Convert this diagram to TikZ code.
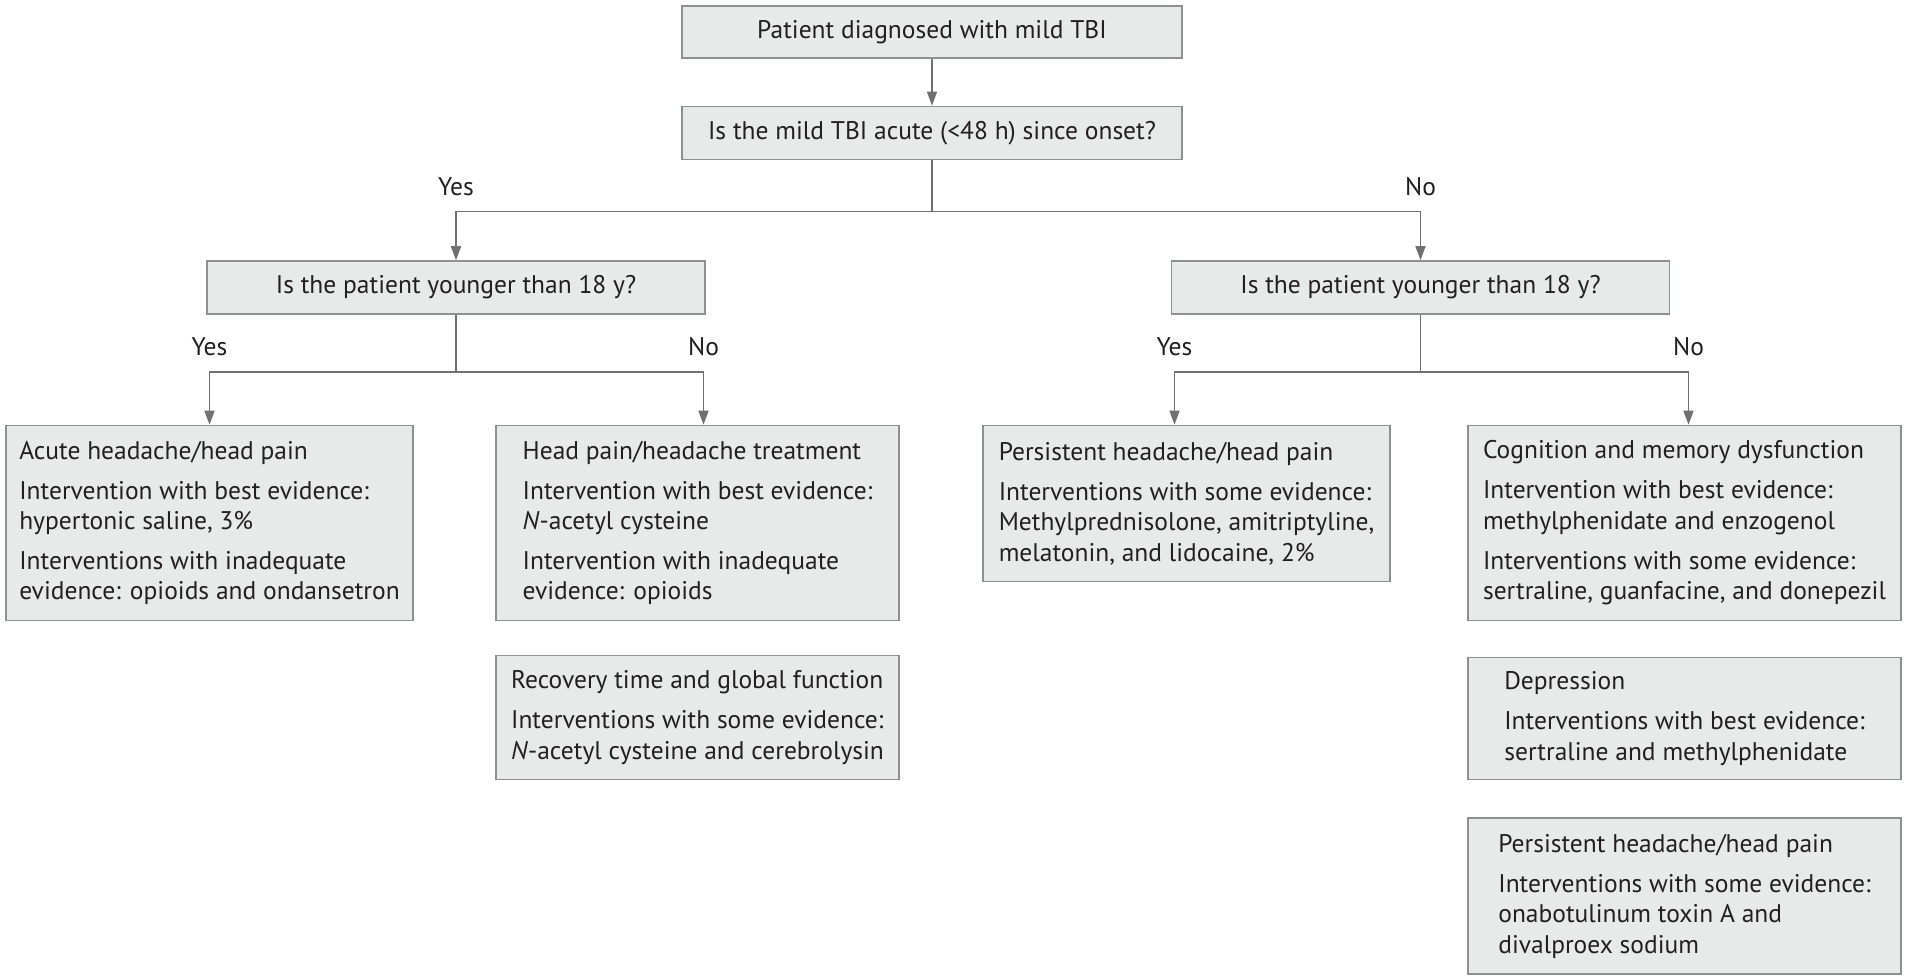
\documentclass[tikz,border=0pt]{standalone}
\usepackage{fontspec}
\setmainfont{PT Sans}
\usetikzlibrary{
  arrows.meta,
  positioning
}
\definecolor{colBox}   {HTML}{E7EAE9}
\definecolor{colBorder}{HTML}{8E908F}
\definecolor{colLine}  {HTML}{707070}
\definecolor{colText}  {HTML}{231F20}
\tikzset{
  %% generic box
  box/.style={
    draw=colBorder, line width=0.8pt,
    fill=colBox,
    align=left,
    inner sep=0pt,
    text=colText,
    font=\fontsize{12.75}{15.2}\selectfont
  },
  %% question box
  qbox/.style={box, minimum width=#1, minimum height=26.5pt},
  qbox/.default=250pt,
  %% yes / no label
  lbl/.style={above=7.5pt, inner sep=0pt, text=colText,
              font=\fontsize{12.75}{15.2}\selectfont},
  %% arrows
  arr/.style={-{Triangle[length=7pt,width=5pt]}, line width=0.75pt,
              color=colLine}
}

\begin{document}
\begin{tikzpicture}[x=0.5pt, y=-0.5pt]
\useasboundingbox (0,0) rectangle (1907,978);

% ==========================================================
% TOP – DIAGNOSIS AND FIRST QUESTION
% ==========================================================
\node[qbox, minimum height=26pt] (ptDiag) at (932,32)
     {Patient diagnosed with mild TBI};

\node[qbox] (acuteQ) at (932,133)
     {Is the mild TBI acute (<48 h) since onset?};

% ==========================================================
% SECOND LEVEL – AGE QUESTIONS
% ==========================================================
\node[qbox, minimum width=249pt] (ageAcute) at (456,287.5)
     {Is the patient younger than 18 y?};

\node[qbox, minimum width=249pt] (ageLate) at (1420.5,287.5)
     {Is the patient younger than 18 y?};

% ==========================================================
% LEAVES – ACUTE
% ==========================================================
\node[box, minimum width=203.5pt, minimum height=97.5pt]
     (acuteHead) at (209.5,523) {%
  Acute headache/head pain\\[4.8pt]
  Intervention with best evidence:\\
  hypertonic saline, 3\%\\[4.8pt]
  Interventions with inadequate\\
  evidence: opioids and ondansetron};

\node[box, minimum width=201.5pt, minimum height=97.5pt]
     (hpTreat) at (697.5,523) {%
  Head pain/headache treatment\\[4.8pt]
  Intervention with best evidence:\\
  \textit{N}-acetyl cysteine\\[4.8pt]
  Intervention with inadequate\\
  evidence: opioids};

\node[box, minimum width=201.5pt, minimum height=62pt,
      below=16.75pt of hpTreat] (recovery) {%
  Recovery time and global function\\[4.8pt]
  Interventions with some evidence:\\
  \textit{N}-acetyl cysteine and cerebrolysin};

% ==========================================================
% LEAVES – NOT ACUTE
% ==========================================================
\node[box, minimum width=203.5pt, minimum height=78pt]
     (persHead) at (1186.5,503.5) {%
  Persistent headache/head pain\\[4.8pt]
  Interventions with some evidence:\\
  Methylprednisolone, amitriptyline,\\
  melatonin, and lidocaine, 2\%};

\node[box, minimum width=216.5pt, minimum height=97.5pt]
     (cognition) at (1684.5,523) {%
  Cognition and memory dysfunction\\[4.8pt]
  Intervention with best evidence:\\
  methylphenidate and enzogenol\\[4.8pt]
  Interventions with some evidence:\\
  sertraline, guanfacine, and donepezil};

\node[box, minimum width=216.5pt, minimum height=61pt,
      below=17.75pt of cognition] (depression) {%
  Depression\\[4.8pt]
  Interventions with best evidence:\\
  sertraline and methylphenidate};

\node[box, minimum width=216.5pt, minimum height=78pt,
      below=18.5pt of depression] (persHead2) {%
  Persistent headache/head pain\\[4.8pt]
  Interventions with some evidence:\\
  onabotulinum toxin A and\\
  divalproex sodium};

% ==========================================================
% ARROWS
% ==========================================================
\draw[arr] (ptDiag) -- (acuteQ);

\draw[arr] (acuteQ.south) -- ++(0,51)
           -| node[lbl, pos=0.5]{Yes} (ageAcute.north);
\draw[arr] (acuteQ.south) -- ++(0,51)
           -| node[lbl, pos=0.5]{No} (ageLate.north);

\draw[arr] (ageAcute.south) -- ++(0,57)
           -| node[lbl, pos=0.5]{Yes} (acuteHead.north);
\draw[arr] (ageAcute.south) -- ++(0,57)
           -| node[lbl, pos=0.5]{No} ([xshift=3pt]hpTreat.north);

\draw[arr] (ageLate.south) -- ++(0,57)
           -| node[lbl, pos=0.5]{Yes} ([xshift=-6pt]persHead.north);
\draw[arr] (ageLate.south) -- ++(0,57)
           -| node[lbl, pos=0.5]{No} ([xshift=2pt]cognition.north);

\end{tikzpicture}
\end{document}
